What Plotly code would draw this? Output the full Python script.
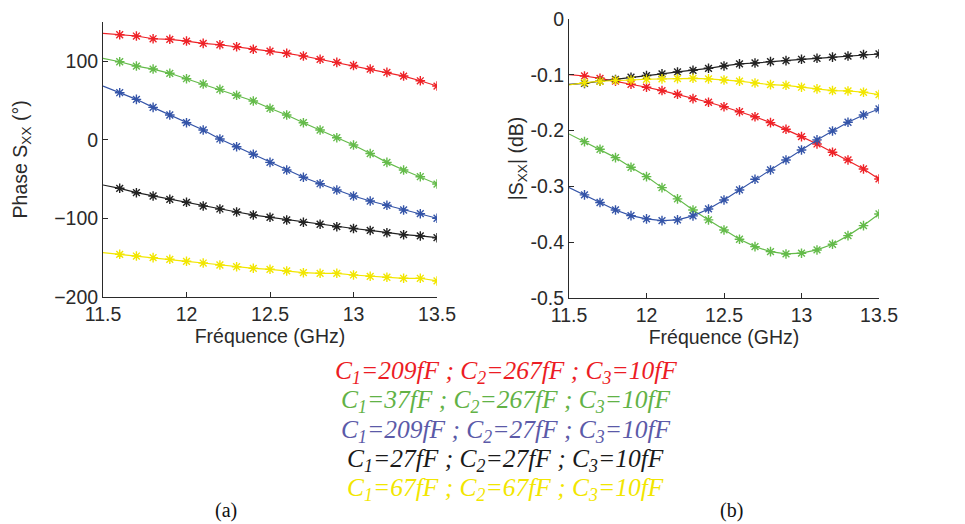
import plotly.graph_objects as go

freq = [11.5, 11.6, 11.7, 11.8, 11.9, 12.0, 12.1, 12.2, 12.3, 12.4, 12.5,
        12.6, 12.7, 12.8, 12.9, 13.0, 13.1, 13.2, 13.3, 13.4, 13.5]

# Phase S_XX (deg)
phase_red = [135.2, 133.4, 131.8, 128.3, 127.6, 125.4, 122.5, 120.7, 118.2, 114.9, 112.7,
             109.8, 106.4, 102.2, 98.3, 94.3, 89.8, 85.6, 80.9, 74.9, 68.2]
phase_green = [103.4, 99.1, 93.6, 89.8, 84.4, 77.5, 70.8, 64.0, 56.4, 49.2, 39.9,
               31.4, 21.6, 12.3, 2.5, -6.8, -17.6, -28.8, -38.6, -47.1, -56.4]
phase_blue = [68.2, 59.7, 51.3, 41.1, 31.4, 21.6, 12.3, 0.9, -8.9, -18.5, -28.8,
              -38.6, -47.8, -56.0, -64.0, -71.6, -78.0, -83.4, -89.4, -94.1, -99.9]
phase_black = [-57.6, -61.8, -67.4, -71.6, -75.8, -79.6, -84.3, -88.1, -91.9, -95.7, -98.6,
               -102.1, -105.0, -107.5, -110.6, -112.9, -115.4, -118.3, -120.8, -122.4, -124.6]
phase_yellow = [-143.7, -145.7, -147.9, -150.0, -152.1, -154.6, -156.8, -159.3, -161.5, -163.5, -164.8,
                -166.9, -169.1, -169.9, -169.9, -172.0, -173.7, -174.9, -176.2, -176.2, -179.6]

# |S_XX| (dB)
mag_red = [-0.0994, -0.1018, -0.106, -0.111, -0.1167, -0.122, -0.128, -0.1347, -0.1425, -0.149, -0.157,
           -0.166, -0.175, -0.1856, -0.1975, -0.2107, -0.2239, -0.2388, -0.2526, -0.2688, -0.2867]
mag_green = [-0.2059, -0.2197, -0.2334, -0.2484, -0.2657, -0.2825, -0.3023, -0.3226, -0.3424, -0.3603, -0.3783,
             -0.395, -0.4083, -0.4172, -0.4214, -0.4201, -0.4142, -0.404, -0.3885, -0.3705, -0.3496]
mag_blue = [-0.3023, -0.3154, -0.329, -0.3424, -0.3526, -0.3585, -0.3616, -0.3603, -0.3531, -0.3406, -0.3244,
            -0.3065, -0.2873, -0.2706, -0.2526, -0.2346, -0.2166, -0.2005, -0.1849, -0.1718, -0.161]
mag_black = [-0.1167, -0.115, -0.111, -0.108, -0.104, -0.101, -0.098, -0.0946, -0.0916, -0.088, -0.0838,
             -0.080, -0.0785, -0.076, -0.0743, -0.0718, -0.070, -0.068, -0.066, -0.0635, -0.0623]
mag_yellow = [-0.118, -0.1138, -0.1113, -0.1095, -0.109, -0.1077, -0.107, -0.1066, -0.106, -0.107, -0.109,
              -0.111, -0.1144, -0.1174, -0.1185, -0.122, -0.125, -0.128, -0.1287, -0.131, -0.1353]

series_colors = ["#ee2227", "#64bb4a", "#3454a8", "#222222", "#f2e600"]
legend_colors = ["#ec1c24", "#62b246", "#5b5aa8", "#1a1a1a", "#f2e600"]
legend_labels = [
    "C<sub>1</sub>=209fF ; C<sub>2</sub>=267fF ; C<sub>3</sub>=10fF",
    "C<sub>1</sub>=37fF ; C<sub>2</sub>=267fF ; C<sub>3</sub>=10fF",
    "C<sub>1</sub>=209fF ; C<sub>2</sub>=27fF ; C<sub>3</sub>=10fF",
    "C<sub>1</sub>=27fF ; C<sub>2</sub>=27fF ; C<sub>3</sub>=10fF",
    "C<sub>1</sub>=67fF ; C<sub>2</sub>=67fF ; C<sub>3</sub>=10fF",
]

x_ticks = [11.5, 12, 12.5, 13, 13.5]
x_ticklabels = ["11.5", "12", "12.5", "13", "13.5"]
phase_ticks = [-200, -100, 0, 100]
mag_ticks = [-0.5, -0.4, -0.3, -0.2, -0.1, 0]
mag_ticklabels = ["-0.5", "-0.4", "-0.3", "-0.2", "-0.1", "0"]

phase_series = [phase_red, phase_green, phase_blue, phase_black, phase_yellow]
mag_series = [mag_red, mag_green, mag_blue, mag_black, mag_yellow]

fig = go.Figure()
for ys, col in zip(phase_series, series_colors):
    fig.add_trace(go.Scatter(x=freq, y=ys, mode="lines", line=dict(color=col, width=1.2),
                             xaxis="x", yaxis="y", showlegend=False, hoverinfo="skip"))
    fig.add_trace(go.Scatter(x=freq[1:], y=ys[1:], mode="markers",
                             marker=dict(symbol="asterisk-open", size=8, color=col,
                                         line=dict(color=col, width=1.4)),
                             xaxis="x", yaxis="y", showlegend=False))
for ys, col in zip(mag_series, series_colors):
    fig.add_trace(go.Scatter(x=freq, y=ys, mode="lines", line=dict(color=col, width=1.2),
                             xaxis="x2", yaxis="y2", showlegend=False, hoverinfo="skip"))
    fig.add_trace(go.Scatter(x=freq[1:], y=ys[1:], mode="markers",
                             marker=dict(symbol="asterisk-open", size=8, color=col,
                                         line=dict(color=col, width=1.4)),
                             xaxis="x2", yaxis="y2", showlegend=False))

axis_font = dict(family="Liberation Sans, Arial, sans-serif", size=19.5, color="#2a2a2a")
common = dict(showline=True, linecolor="#2a2a2a", linewidth=1, ticks="inside", ticklen=5,
              tickcolor="#2a2a2a", showgrid=False, zeroline=False, tickfont=axis_font,
              mirror=False, automargin=False)

W, H, OFF = 965, 524, 8  # page body margin offset


def px_x(p):
    return (p - OFF) / W


def px_y(p):
    return 1 - (p - OFF) / H


fig.update_layout(
    width=W, height=H,
    paper_bgcolor="white", plot_bgcolor="white",
    margin=dict(l=0, r=0, t=0, b=0, autoexpand=False),
    xaxis=dict(domain=[px_x(103), px_x(437)], range=[11.5, 13.5], tickvals=x_ticks, ticktext=x_ticklabels,
               anchor="y", title=dict(text="Fréquence (GHz)", font=axis_font, standoff=2), **common),
    yaxis=dict(domain=[px_y(297), px_y(21.7)], range=[-200, 150], tickvals=phase_ticks, anchor="x",
               title=dict(text="Phase S<sub>XX</sub> (°)", font=axis_font, standoff=21), **common),
    xaxis2=dict(domain=[px_x(569), px_x(879)], range=[11.5, 13.5], tickvals=x_ticks, ticktext=x_ticklabels,
                anchor="y2", title=dict(text="Fréquence (GHz)", font=axis_font, standoff=2), **common),
    yaxis2=dict(domain=[px_y(297.7), px_y(19.3)], range=[-0.5, 0], tickvals=mag_ticks, ticktext=mag_ticklabels,
                anchor="x2", title=dict(text="|S<sub>XX</sub>| (dB)", font=axis_font, standoff=0), **common),
)

legend_font_family = "Liberation Serif, Times New Roman, serif"
for i, (lab, col) in enumerate(zip(legend_labels, legend_colors)):
    fig.add_annotation(x=px_x(505.5), y=px_y(372 + i * 29.3), xref="paper", yref="paper",
                       text="<i>" + lab + "</i>", showarrow=False, xanchor="center", yanchor="middle",
                       font=dict(family=legend_font_family, size=25.5, color=col))

fig.add_annotation(x=px_x(226), y=px_y(510), xref="paper", yref="paper", text="(a)",
                   xanchor="center", yanchor="middle",
                   showarrow=False, font=dict(family=legend_font_family, size=20, color="#111111"))
fig.add_annotation(x=px_x(731), y=px_y(510), xref="paper", yref="paper", text="(b)",
                   xanchor="center", yanchor="middle",
                   showarrow=False, font=dict(family=legend_font_family, size=20, color="#111111"))

fig.write_html("out.html")
